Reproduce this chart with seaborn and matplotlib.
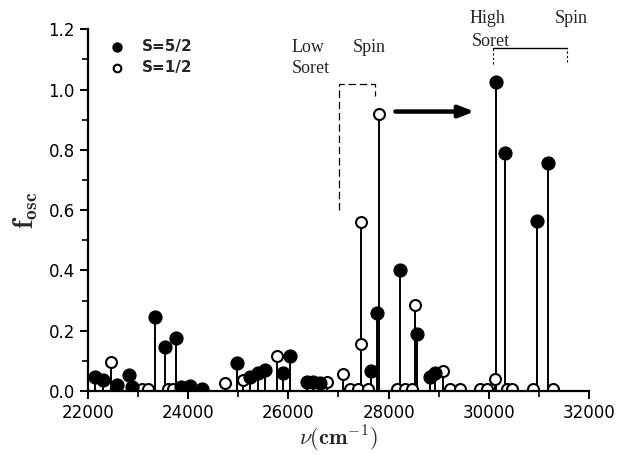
import matplotlib
matplotlib.use("Agg")
import matplotlib.pyplot as plt
import seaborn as sns
import pandas as pd

# S=5/2 (filled) transitions
high_nu = [22140, 22300, 22580, 22820, 22880, 23340, 23540, 23750, 23850, 24030,
           24280, 24970, 25230, 25390, 25530, 25890, 26030, 26370, 26490, 26630,
           27650, 27770, 28230, 28570, 28830, 28930, 30150, 30330, 30960, 31180]
high_f = [0.045, 0.037, 0.020, 0.053, 0.013, 0.245, 0.147, 0.177, 0.012, 0.015,
          0.008, 0.092, 0.045, 0.060, 0.070, 0.060, 0.115, 0.030, 0.030, 0.027,
          0.065, 0.260, 0.400, 0.190, 0.045, 0.060, 1.025, 0.790, 0.565, 0.755]

# S=1/2 (open) transitions
low_nu = [22460, 23080, 23200, 23600, 23700, 24730, 25100, 25770, 26770, 27090,
          27230, 27390, 27450, 27440, 27590, 27800, 28170, 28330, 28470, 28530,
          29090, 29230, 29420, 29820, 29960, 30120, 30360, 30460, 30880, 31280]
low_f = [0.097, 0.005, 0.005, 0.005, 0.005, 0.025, 0.035, 0.115, 0.030, 0.055,
         0.005, 0.005, 0.155, 0.560, 0.005, 0.920, 0.005, 0.005, 0.005, 0.285,
         0.065, 0.005, 0.005, 0.005, 0.005, 0.040, 0.005, 0.005, 0.005, 0.005]

high = pd.DataFrame({"nu": high_nu, "f": high_f})
low = pd.DataFrame({"nu": low_nu, "f": low_f})

sns.set_style("ticks")
plt.rcParams["mathtext.fontset"] = "cm"

fig = plt.figure(figsize=(6.17, 4.55), dpi=100)
ax = fig.add_axes([0.1426, 0.1407, 0.812, 0.795])

# stems
ax.vlines(high["nu"], 0, high["f"], color="black", lw=1.4, zorder=1.5)
ax.vlines(low["nu"], 0, low["f"], color="black", lw=1.4, zorder=1.5)

sns.scatterplot(data=high, x="nu", y="f", ax=ax, s=85, color="black",
                edgecolor="black", linewidth=1.0, zorder=2.2, label="S=5/2",
                clip_on=True)
sns.scatterplot(data=low, x="nu", y="f", ax=ax, s=62, facecolor="white",
                edgecolor="black", linewidth=1.5, zorder=2.0, label="S=1/2",
                clip_on=True)

ax.set_xlim(22000, 32000)
ax.set_ylim(0, 1.2)
ax.set_xticks(range(22000, 32001, 2000))
ax.set_xticks(range(23000, 32000, 2000), minor=True)
ax.set_yticks([0.0, 0.2, 0.4, 0.6, 0.8, 1.0, 1.2])
ax.set_yticks([0.1, 0.3, 0.5, 0.7, 0.9, 1.1], minor=True)
ax.set_yticklabels(["0.0", "0.2", "0.4", "0.6", "0.8", "1.0", "1.2"])
ax.tick_params(axis="both", which="major", length=6, width=1.4, labelsize=12,
               color="black", labelcolor="black")
ax.tick_params(axis="both", which="minor", length=4, width=1.2, color="black")
sns.despine(ax=ax)
for sp in ("left", "bottom"):
    ax.spines[sp].set_linewidth(1.6)
    ax.spines[sp].set_color("black")
    ax.spines[sp].set_zorder(3)

ax.set_xlabel(r"$\nu(\mathbf{cm}^{-1})$", fontsize=16, labelpad=1)
ax.set_ylabel(r"$\mathbf{f}_{\mathbf{osc}}$", fontsize=20, labelpad=6)

leg = ax.legend(loc="upper left", bbox_to_anchor=(0.0, 1.01), frameon=False,
                handletextpad=0.6, labelspacing=0.35, markerscale=0.7,
                prop={"weight": "bold", "size": 11})

# annotations
serif = "Liberation Serif"
ax.text(26070, 1.14, "Low", fontsize=13, family=serif, va="center")
ax.text(27290, 1.14, "Spin", fontsize=13, family=serif, va="center")
ax.text(26070, 1.07, "Soret", fontsize=13, family=serif, va="center")
ax.plot([27010, 27010, 27730, 27730], [0.60, 1.02, 1.02, 0.98],
        color="black", lw=0.9, ls=(0, (6, 3)))
ax.annotate("", xy=(29770, 0.927), xytext=(28080, 0.927),
            arrowprops=dict(arrowstyle="-|>,head_length=0.9,head_width=0.35",
                            lw=3.2, color="black"))
ax.text(29620, 1.237, "High", fontsize=13, family=serif, va="center", clip_on=False)
ax.text(31320, 1.237, "Spin", fontsize=13, family=serif, va="center", clip_on=False)
ax.text(29660, 1.16, "Soret", fontsize=13, family=serif, va="center")
ax.plot([30080, 31560], [1.137, 1.137], color="black", lw=1.0)
ax.plot([30080, 30080], [1.085, 1.137], color="black", lw=0.8, ls=(0, (2, 2)))
ax.plot([31560, 31560], [1.09, 1.137], color="black", lw=0.8, ls=(0, (2, 2)))

fig.savefig("out.png", dpi=100)
